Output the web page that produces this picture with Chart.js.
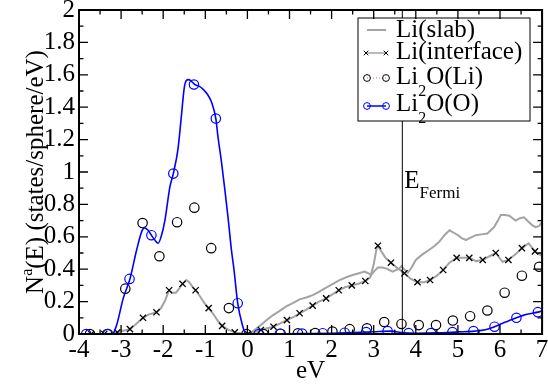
<!DOCTYPE html>
<html>
<head>
<meta charset="utf-8">
<script src="https://cdn.jsdelivr.net/npm/chart.js@4.4.1/dist/chart.umd.min.js"></script>
<style>
  html, body { margin: 0; padding: 0; background: #fff; }
</style>
</head>
<body>
<canvas id="dosChart" width="548" height="386"></canvas>
<script>
// Values (energy in eV, N(E) in states/sphere/eV)

// Li(slab) - grey line, no symbols
const slabX = [-4, 0.0, 0.1, 0.2, 0.37, 0.5, 0.61, 0.75, 0.92, 1.08, 1.24, 1.4, 1.55, 1.7, 1.87, 2.03, 2.19, 2.35, 2.5, 2.65, 2.78, 2.87, 2.94, 3.02, 3.1, 3.2, 3.29, 3.45, 3.61, 3.66, 3.72, 3.81, 3.9, 4.0, 4.15, 4.32, 4.45, 4.56, 4.68, 4.8, 4.9, 5.0, 5.1, 5.19, 5.3, 5.43, 5.56, 5.7, 5.78, 5.86, 5.95, 6.02, 6.12, 6.22, 6.3, 6.37, 6.47, 6.57, 6.67, 6.77, 6.85, 6.93, 7.0];
const slabY = [0, 0, 0.01, 0.03, 0.066, 0.095, 0.117, 0.14, 0.17, 0.19, 0.214, 0.225, 0.24, 0.26, 0.286, 0.31, 0.333, 0.35, 0.364, 0.375, 0.385, 0.375, 0.364, 0.39, 0.41, 0.41, 0.405, 0.385, 0.405, 0.42, 0.4, 0.378, 0.41, 0.457, 0.49, 0.52, 0.545, 0.57, 0.61, 0.64, 0.625, 0.61, 0.59, 0.58, 0.595, 0.61, 0.615, 0.62, 0.64, 0.66, 0.7, 0.735, 0.735, 0.73, 0.715, 0.7, 0.715, 0.72, 0.695, 0.67, 0.66, 0.667, 0.69];

// Li(interface) - grey line with black x symbols
const ifaceX = [-4, -3.3, -3.1, -2.95, -2.79, -2.65, -2.48, -2.35, -2.16, -2.05, -1.95, -1.86, -1.78, -1.7, -1.62, -1.54, -1.45, -1.38, -1.3, -1.23, -1.12, -1.02, -0.92, -0.8, -0.7, -0.6, -0.45, -0.3, -0.15, 0, 0.15, 0.32, 0.47, 0.62, 0.78, 0.94, 1.1, 1.24, 1.4, 1.55, 1.7, 1.87, 2.02, 2.17, 2.33, 2.48, 2.64, 2.8, 2.92, 3.0, 3.07, 3.1, 3.18, 3.29, 3.41, 3.57, 3.73, 3.88, 4.04, 4.2, 4.34, 4.5, 4.65, 4.8, 4.97, 5.12, 5.27, 5.43, 5.59, 5.75, 5.9, 6.06, 6.2, 6.36, 6.52, 6.68, 6.83, 7.0];
const ifaceY = [0, 0, 0.01, 0.02, 0.03, 0.06, 0.1, 0.12, 0.134, 0.16, 0.21, 0.27, 0.255, 0.255, 0.28, 0.31, 0.333, 0.32, 0.29, 0.27, 0.23, 0.19, 0.16, 0.12, 0.08, 0.05, 0.025, 0.01, 0.003, 0, 0.01, 0.025, 0.035, 0.045, 0.065, 0.086, 0.105, 0.128, 0.15, 0.175, 0.2, 0.22, 0.245, 0.27, 0.29, 0.3, 0.31, 0.327, 0.35, 0.43, 0.53, 0.545, 0.51, 0.467, 0.44, 0.405, 0.375, 0.34, 0.32, 0.32, 0.333, 0.36, 0.395, 0.44, 0.47, 0.47, 0.47, 0.45, 0.457, 0.48, 0.5, 0.446, 0.457, 0.49, 0.53, 0.56, 0.51, 0.48];
const ifaceMarkX = [-3.71, -3.4, -3.09, -2.79, -2.48, -2.16, -1.86, -1.54, -1.23, -0.92, -0.6, -0.3, 0.01, 0.32, 0.62, 0.94, 1.24, 1.55, 1.87, 2.17, 2.48, 2.8, 3.1, 3.41, 3.73, 4.04, 4.34, 4.65, 4.97, 5.27, 5.59, 5.9, 6.2, 6.52, 6.83];
const ifaceMarkY = [0, 0, 0.01, 0.03, 0.1, 0.134, 0.27, 0.31, 0.27, 0.16, 0.05, 0.01, 0, 0.025, 0.045, 0.086, 0.128, 0.175, 0.22, 0.27, 0.3, 0.327, 0.545, 0.44, 0.375, 0.32, 0.333, 0.395, 0.47, 0.47, 0.457, 0.5, 0.457, 0.53, 0.51];

// Li2O(Li) - black open circles
const li2oLiX = [-3.74, -3.33, -2.9, -2.49, -2.09, -1.67, -1.26, -0.86, -0.44, -0.02, 0.38, 0.79, 1.2, 1.61, 2.02, 2.43, 2.84, 3.25, 3.66, 4.07, 4.48, 4.88, 5.29, 5.7, 6.11, 6.52, 6.93];
const li2oLiY = [0, 0, 0.28, 0.685, 0.48, 0.69, 0.78, 0.53, 0.16, 0, 0, 0.002, 0.004, 0.006, 0.015, 0.03, 0.035, 0.074, 0.062, 0.055, 0.055, 0.083, 0.11, 0.145, 0.255, 0.36, 0.415];

// Li2O(O) - blue line with blue open circles
const li2oOX = [-4, -3.3, -3.19, -3.1, -2.95, -2.79, -2.63, -2.5, -2.44, -2.36, -2.28, -2.2, -2.12, -2.05, -1.96, -1.84, -1.76, -1.65, -1.57, -1.5, -1.45, -1.4, -1.33, -1.25, -1.15, -1.05, -0.95, -0.85, -0.75, -0.7, -0.62, -0.54, -0.46, -0.38, -0.32, -0.23, -0.13, -0.03, 0.5, 1.0, 1.5, 2.0, 2.5, 3.0, 3.4, 3.7, 4.0, 4.5, 5.0, 5.4, 5.65, 5.87, 6.05, 6.2, 6.39, 6.55, 6.7, 6.9, 7.0];
const li2oOY = [0, 0, 0.005, 0.06, 0.22, 0.34, 0.52, 0.64, 0.655, 0.64, 0.61, 0.58, 0.56, 0.6, 0.7, 0.91, 0.99, 1.14, 1.34, 1.52, 1.565, 1.57, 1.56, 1.54, 1.53, 1.51, 1.48, 1.43, 1.33, 1.22, 1.07, 0.9, 0.72, 0.52, 0.4, 0.19, 0.066, 0, 0, 0.002, 0.003, 0.005, 0.009, 0.014, 0.018, 0.008, 0.005, 0.007, 0.013, 0.018, 0.026, 0.045, 0.065, 0.08, 0.1, 0.115, 0.125, 0.135, 0.142];
const li2oOMarkX = [-3.83, -3.31, -2.8, -2.28, -1.76, -1.27, -0.75, -0.23, 0.27, 0.77, 1.3, 1.79, 2.31, 2.82, 3.33, 3.83, 4.36, 4.87, 5.37, 5.87, 6.39, 6.9];
const li2oOMarkY = [0, 0, 0.34, 0.61, 0.99, 1.54, 1.33, 0.19, 0, 0.002, 0.003, 0.005, 0.008, 0.012, 0.018, 0.006, 0.006, 0.012, 0.018, 0.045, 0.1, 0.135];

// Fermi level position (eV)
const eFermi = 3.68;

// Axis ranges
const xMin = -4, xMax = 7, yMin = 0, yMax = 2;

const FONT = '"Liberation Serif"';
const GREY = '#a3a3a3';
const BLUE = '#0000ff';

// Pair up x/y arrays into {x, y} points
function pts(xs, ys) {
  return xs.map((x, i) => ({ x: x, y: ys[i] }));
}

// Draw a run of text pieces, some of them sub/superscript
function drawRich(ctx, parts, x, y) {
  parts.forEach(p => {
    ctx.font = p.size + 'px ' + FONT;
    ctx.fillText(p.t, x, y + (p.dy || 0));
    x += ctx.measureText(p.t).width;
  });
  return x;
}

function richWidth(ctx, parts) {
  let w = 0;
  parts.forEach(p => {
    ctx.font = p.size + 'px ' + FONT;
    w += ctx.measureText(p.t).width;
  });
  return w;
}

// Inward ticks on all four sides plus the frame, grace style
const frameTicks = {
  id: 'frameTicks',
  afterDraw(chart) {
    const { ctx, chartArea: a, scales } = chart;
    ctx.save();
    ctx.strokeStyle = '#000';
    ctx.lineWidth = 1.3;
    ctx.beginPath();
    for (let i = 0; i <= (xMax - xMin) * 2; i++) {
      const v = xMin + i * 0.5;
      const px = scales.x.getPixelForValue(v);
      const len = i % 2 === 0 ? 9 : 4.5;
      ctx.moveTo(px, a.bottom); ctx.lineTo(px, a.bottom - len);
      ctx.moveTo(px, a.top); ctx.lineTo(px, a.top + len);
    }
    for (let i = 0; i <= (yMax - yMin) * 10; i++) {
      const py = scales.y.getPixelForValue(yMin + i * 0.1);
      const len = i % 2 === 0 ? 9 : 4.5;
      ctx.moveTo(a.left, py); ctx.lineTo(a.left + len, py);
      ctx.moveTo(a.right, py); ctx.lineTo(a.right - len, py);
    }
    ctx.stroke();
    ctx.lineWidth = 2;
    ctx.strokeRect(a.left, a.top, a.width, a.height);

    // y axis title with superscript a
    const title = [
      { t: 'N', size: 25 },
      { t: 'a', size: 16, dy: -11 },
      { t: '(E) (states/sphere/eV)', size: 25 }
    ];
    ctx.fillStyle = '#000';
    ctx.textBaseline = 'alphabetic';
    ctx.textAlign = 'left';
    ctx.translate(43, (a.top + a.bottom) / 2);
    ctx.rotate(-Math.PI / 2);
    drawRich(ctx, title, -richWidth(ctx, title) / 2, 0);
    ctx.restore();
  }
};

// Fermi line, its label and the boxed legend
const annotations = {
  id: 'annotations',
  afterDatasetsDraw(chart) {
    const { ctx, scales } = chart;
    const fx = scales.x.getPixelForValue(eFermi);
    ctx.save();

    ctx.strokeStyle = '#000';
    ctx.lineWidth = 1;
    ctx.beginPath();
    ctx.moveTo(fx, scales.y.getPixelForValue(yMin));
    ctx.lineTo(fx, scales.y.getPixelForValue(yMax));
    ctx.stroke();

    ctx.fillStyle = '#000';
    ctx.textBaseline = 'alphabetic';
    drawRich(ctx, [{ t: 'E', size: 25 }, { t: 'Fermi', size: 17, dy: 9.5 }], fx + 2, 188);

    // legend box
    const box = { l: 358, t: 18, r: 530, b: 121 };
    ctx.fillStyle = '#fff';
    ctx.fillRect(box.l, box.t, box.r - box.l, box.b - box.t);
    ctx.strokeStyle = '#000';
    ctx.lineWidth = 1;
    ctx.strokeRect(box.l, box.t, box.r - box.l, box.b - box.t);

    const s0 = 367, s1 = 386, tx = 396;
    const circle = (x, y, c) => {
      ctx.beginPath(); ctx.arc(x, y, 3.4, 0, Math.PI * 2);
      ctx.strokeStyle = c; ctx.lineWidth = 1; ctx.stroke();
    };
    const cross = (x, y) => {
      ctx.beginPath();
      ctx.moveTo(x - 2.3, y - 2.3); ctx.lineTo(x + 2.3, y + 2.3);
      ctx.moveTo(x - 2.3, y + 2.3); ctx.lineTo(x + 2.3, y - 2.3);
      ctx.strokeStyle = '#000'; ctx.lineWidth = 1; ctx.stroke();
    };
    const line = (y, c, w, dash) => {
      ctx.beginPath(); ctx.setLineDash(dash || []);
      ctx.moveTo(s0, y); ctx.lineTo(s1, y);
      ctx.strokeStyle = c; ctx.lineWidth = w; ctx.stroke();
      ctx.setLineDash([]);
    };

    line(30, GREY, 2);
    line(53, GREY, 1.5); cross(s0 - 1, 53); cross(s1, 53);
    line(78, '#c07070', 1, [1, 2]); circle(s0, 78, '#000'); circle(s1, 78, '#000');
    line(106, BLUE, 1.5); circle(s0, 106, BLUE); circle(s1, 106, BLUE);

    ctx.fillStyle = '#000';
    drawRich(ctx, [{ t: 'Li(slab)', size: 25 }], tx, 36.5);
    drawRich(ctx, [{ t: 'Li(interface)', size: 25 }], tx, 59);
    drawRich(ctx, [{ t: 'Li', size: 25 }, { t: '2', size: 16, dy: 12 }, { t: 'O(Li)', size: 25 }], tx, 84);
    drawRich(ctx, [{ t: 'Li', size: 25 }, { t: '2', size: 16, dy: 12 }, { t: 'O(O)', size: 25 }], tx, 111);
    ctx.restore();
  }
};

const ctx = document.getElementById('dosChart').getContext('2d');

new Chart(ctx, {
  type: 'scatter',
  data: {
    datasets: [
      {
        label: 'Li(slab)', data: pts(slabX, slabY), showLine: true,
        borderColor: GREY, borderWidth: 2, pointRadius: 0, order: 5
      },
      {
        label: 'Li(interface)', data: pts(ifaceX, ifaceY), showLine: true,
        borderColor: GREY, borderWidth: 2, pointRadius: 0, order: 4
      },
      {
        label: 'Li(interface) symbols', data: pts(ifaceMarkX, ifaceMarkY), showLine: false,
        pointStyle: 'crossRot', pointRadius: 4.4, borderColor: '#000', borderWidth: 1.3, order: 3
      },
      {
        label: 'Li2O(Li)', data: pts(li2oLiX, li2oLiY), showLine: false,
        pointStyle: 'circle', pointRadius: 4.7, borderColor: '#000', backgroundColor: 'rgba(0,0,0,0)',
        borderWidth: 1.2, order: 2
      },
      {
        label: 'Li2O(O)', data: pts(li2oOX, li2oOY), showLine: true,
        borderColor: BLUE, borderWidth: 1.6, pointRadius: 0, order: 1,
        cubicInterpolationMode: 'monotone'
      },
      {
        label: 'Li2O(O) symbols', data: pts(li2oOMarkX, li2oOMarkY), showLine: false,
        pointStyle: 'circle', pointRadius: 4.7, borderColor: BLUE, backgroundColor: 'rgba(0,0,0,0)',
        borderWidth: 1.2, order: 0
      }
    ]
  },
  options: {
    responsive: false,
    animation: false,
    layout: { padding: { top: 10, right: 5, left: 0, bottom: 0 } },
    plugins: {
      legend: { display: false },
      tooltip: { enabled: false }
    },
    scales: {
      x: {
        type: 'linear', min: xMin, max: xMax,
        grid: { display: false, drawTicks: false },
        border: { display: false },
        ticks: {
          stepSize: 1, autoSkip: false, maxRotation: 0, padding: 1,
          color: '#000', font: { family: FONT, size: 25 }
        },
        title: {
          display: true, text: 'eV', color: '#000', padding: 0,
          font: { family: FONT, size: 25 }
        },
        afterFit(scale) {
          scale.height = 52;
          scale.paddingLeft = 0;
          scale.paddingRight = 0;
        }
      },
      y: {
        type: 'linear', min: yMin, max: yMax,
        grid: { display: false, drawTicks: false },
        border: { display: false },
        ticks: {
          stepSize: 0.2, autoSkip: false, padding: 4,
          color: '#000', font: { family: FONT, size: 25 },
          callback: v => String(Number(v.toFixed(1)))
        },
        afterFit(scale) {
          scale.width = 79;
          scale.paddingTop = 0;
          scale.paddingBottom = 0;
        }
      }
    }
  },
  plugins: [annotations, frameTicks]
});
</script>
</body>
</html>
